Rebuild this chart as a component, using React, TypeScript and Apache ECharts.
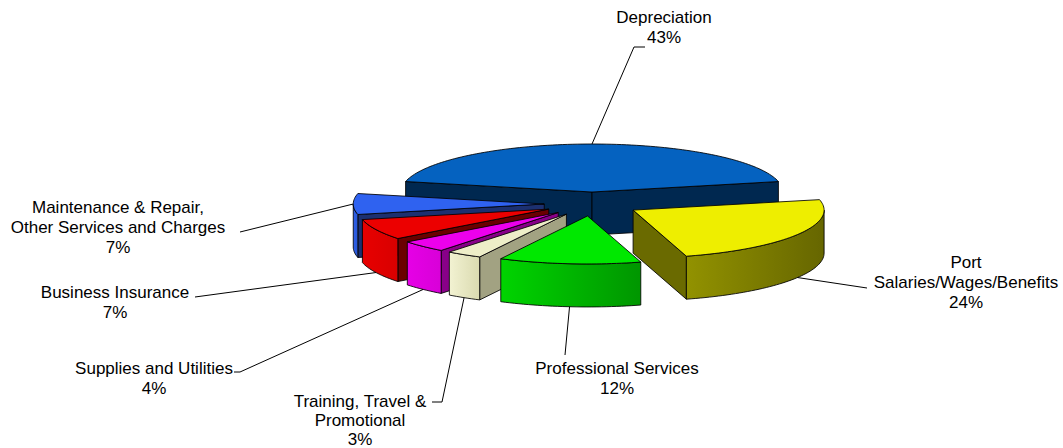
import React, { useEffect, useRef } from "react";
import * as echarts from "echarts";

// ---- data ----
const categories = [
  "Depreciation",
  "Port\nSalaries/Wages/Benefits",
  "Professional Services",
  "Training, Travel &\nPromotional",
  "Supplies and Utilities",
  "Business Insurance",
  "Maintenance & Repair,\nOther Services and Charges",
];
const values = [43, 24, 12, 3, 4, 7, 7];

// ---- styles ----
const topColors = ["#0562C0", "#EEEE00", "#00E800", "#EEEEC8", "#EC00EC", "#EC0000", "#2F62F0"];
const wallColors = [
  ["#002850", "#002850"],
  ["#929200", "#666600"],
  ["#00D400", "#009600"],
  ["#F2F2D2", "#DADAB0"],
  ["#E600E6", "#D800D8"],
  ["#E80000", "#D80000"],
  ["#3060E8", "#2858D8"],
];
const radialColors = ["#002850", "#6A6A00", "#009A00", "#A2A282", "#880088", "#6A0000", "#1C3070"];

// ---- layout ----
const CX = 592;
const CY = 204;
const RX = 191;
const RY = 48;
const DEPTH = 43;
const EXPLODE = 0.25;
const FONT = '17px "Liberation Sans", Arial, sans-serif';
// label block centre and leader-line points after the start point on the slice
const labelLayout = [
  { x: 664, y: 27, lh: 20, line: [[634, 47], [645, 47]] },
  { x: 966, y: 282, lh: 20, line: [[867, 288]] },
  { x: 617, y: 378, lh: 20, line: [[565, 355]] },
  { x: 360, y: 420, lh: 19, line: [[442, 402], [432, 402]] },
  { x: 154, y: 378, lh: 20, line: [[240, 372], [234, 372]] },
  { x: 115, y: 302, lh: 20, line: [[195, 297]] },
  { x: 118, y: 227, lh: 20, line: [[240, 232]] },
];

const total = values.reduce((a, b) => a + b, 0);
const startAngle = 90 + (values[0] / total) * 180;
const sliceAngles = (() => {
  let cum = 0;
  return values.map((v) => {
    const a0 = startAngle - (360 * cum) / total;
    cum += v;
    const a1 = startAngle - (360 * cum) / total;
    return { a0, a1, mid: (a0 + a1) / 2 };
  });
})();
const drawOrder = sliceAngles
  .map((s, i) => ({ i, s: Math.sin((s.mid * Math.PI) / 180) }))
  .sort((a, b) => b.s - a.s)
  .map((o) => o.i);

const rad = (d: number) => (d * Math.PI) / 180;
function pt(ox: number, oy: number, deg: number, dz: number) {
  return [ox + RX * Math.cos(rad(deg)), oy - RY * Math.sin(rad(deg)) + dz];
}
function arc(ox: number, oy: number, from: number, to: number, dz: number) {
  const n = Math.max(2, Math.ceil(Math.abs(to - from) / 1.5));
  const pts: number[][] = [];
  for (let k = 0; k <= n; k++) pts.push(pt(ox, oy, from + ((to - from) * k) / n, dz));
  return pts;
}

const STROKE = "rgba(0,0,0,0.85)";

function renderItem(params: any, api: any) {
  const i = params.dataIndex;
  const v = api.value(0);
  const { a0, a1, mid } = sliceAngles[i];
  const ox = CX + EXPLODE * RX * Math.cos(rad(mid));
  const oy = CY - EXPLODE * RY * Math.sin(rad(mid));
  const base = drawOrder.indexOf(i) * 10;
  const children: any[] = [];

  const radial = (deg: number) => {
    const p = pt(ox, oy, deg, 0);
    children.push({
      type: "polygon",
      z2: base + 1,
      shape: { points: [[ox, oy], p, [p[0], p[1] + DEPTH], [ox, oy + DEPTH]] },
      style: { fill: radialColors[i], stroke: STROKE, lineWidth: 1 },
    });
  };
  if (Math.cos(rad(a0)) < 0) radial(a0);
  if (Math.cos(rad(a1)) > 0) radial(a1);

  const hi = Math.min(a0, 0);
  const lo = Math.max(a1, -180);
  if (hi > lo) {
    const top = arc(ox, oy, hi, lo, 0);
    const bot = arc(ox, oy, lo, hi, DEPTH);
    const xs = top.map((p) => p[0]);
    const minX = Math.min(...xs);
    const maxX = Math.max(...xs);
    children.push({
      type: "polygon",
      z2: base + 2,
      shape: { points: top.concat(bot) },
      style: {
        fill: new echarts.graphic.LinearGradient(
          minX, 0, maxX, 0,
          [
            { offset: 0, color: wallColors[i][0] },
            { offset: 1, color: wallColors[i][1] },
          ],
          true
        ),
        stroke: STROKE,
        lineWidth: 1,
      },
    });
  }

  children.push({
    type: "polygon",
    z2: base + 3,
    shape: { points: [[ox, oy]].concat(arc(ox, oy, a0, a1, 0)) },
    style: { fill: topColors[i], stroke: STROKE, lineWidth: 1 },
  });

  // leader line + label
  const s = Math.sin(rad(mid));
  const start = s > -0.01 ? pt(ox, oy, mid, 0) : pt(ox, oy, mid, DEPTH);
  const L = labelLayout[i];
  children.push({
    type: "polyline",
    z2: 200,
    shape: { points: [start].concat(L.line) },
    style: { stroke: "#000", lineWidth: 1, fill: null },
  });
  const pct = Math.round((v / total) * 100) + "%";
  children.push({
    type: "text",
    z2: 201,
    x: L.x,
    y: L.y,
    style: {
      text: categories[i] + "\n" + pct,
      fill: "#000",
      font: FONT,
      align: "center",
      verticalAlign: "middle",
      lineHeight: L.lh,
    },
  });

  return { type: "group", children };
}

export default function App() {
  const ref = useRef<HTMLDivElement>(null);
  useEffect(() => {
    document.body.style.margin = "0";
    const chart = echarts.init(ref.current!, null, { renderer: "svg" });
    chart.setOption({
      animation: false,
      backgroundColor: "#ffffff",
      series: [
        {
          type: "custom",
          coordinateSystem: "none",
          silent: true,
          renderItem,
          data: values.map((v) => [v]),
        },
      ],
    });
    return () => chart.dispose();
  }, []);
  return <div ref={ref} style={{ width: 1063, height: 448 }} />;
}
